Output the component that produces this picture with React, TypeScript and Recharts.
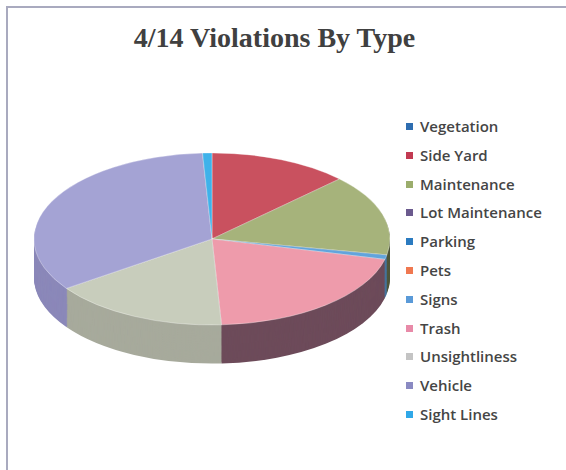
import React from "react";
import { Cell, Pie, PieChart } from "recharts";

const categories = [
  "Vegetation", "Side Yard", "Maintenance", "Lot Maintenance", "Parking",
  "Pets", "Signs", "Trash", "Unsightliness", "Vehicle", "Sight Lines",
];
const counts = [0, 15, 18, 0, 0, 0, 1, 24, 19, 40, 1];

const legendColors = [
  "#2e6db0", "#c23a52", "#9bad6c", "#6b5a8e", "#2b7bc0", "#f07850",
  "#5a9ad8", "#e88aa8", "#c4c4c4", "#8a8ac2", "#30a8e8",
];
const topColors = [
  "#3a78bd", "#c9515f", "#a6b37b", "#7e6aa2", "#3a86c8", "#f49a78",
  "#62a4dc", "#ee9bab", "#c8cdbc", "#a4a3d4", "#3fb2ea",
];
const sideColors = [
  "#24507e", "#7a3040", "#4f573c", "#4d3f6a", "#245a88", "#a0583e",
  "#46749c", "#6d4b5a", "#a7aa9c", "#8b88b9", "#2a7ea8",
];

const data = categories.map((name, i) => ({ name, value: counts[i] }));

const R = 178;
const SCALE_Y = 86 / 178;
const DEPTH = 80; // unscaled px
const STEP = 2;
const layers = Array.from({ length: DEPTH / STEP }, (_, i) => DEPTH - i * STEP);

function Pie3D() {
  return (
    <div style={{
      position: "absolute", left: 212 - 180, top: 239 - 180 * SCALE_Y,
      transform: `scaleY(${SCALE_Y})`, transformOrigin: "0 0",
    }}>
      <PieChart width={360} height={360 + DEPTH + 4} margin={{ top: 0, right: 0, bottom: 0, left: 0 }}>
        {layers.map((off) => (
          <Pie
            key={off} data={data} dataKey="value" nameKey="name"
            cx={180} cy={180 + off} outerRadius={R}
            startAngle={90} endAngle={-270} stroke="none"
            isAnimationActive={false}
          >
            {data.map((d, i) => <Cell key={d.name} fill={sideColors[i]} />)}
          </Pie>
        ))}
        <Pie
          data={data} dataKey="value" nameKey="name"
          cx={180} cy={180} outerRadius={R}
          startAngle={90} endAngle={-270}
          stroke="#ffffff" strokeOpacity={0.45} strokeWidth={1}
          isAnimationActive={false}
        >
          {data.map((d, i) => <Cell key={d.name} fill={topColors[i]} />)}
        </Pie>
      </PieChart>
    </div>
  );
}

export default function App() {
  return (
    <div style={{
      position: "absolute", left: 0, top: 0, width: 566, height: 470,
      background: "#fff", overflow: "hidden",
    }}>
      <div style={{
        position: "absolute", left: 6, top: 6, width: 558, height: 462,
        borderTop: "2px solid #a9aabf", borderLeft: "2px solid #a9aabf",
      }} />
      <div style={{
        position: "absolute", left: 0, top: 24, width: 549, textAlign: "center",
        fontFamily: "'Liberation Serif', 'Times New Roman', serif",
        fontWeight: 700, fontSize: 28, lineHeight: "28px", color: "#404040",
      }}>
        4/14 Violations By Type
      </div>
      <Pie3D />
      {categories.map((name, i) => (
        <div key={name} style={{ position: "absolute", left: 406, top: 119 + i * 28.8, height: 16 }}>
          <div style={{
            position: "absolute", left: 0, top: 4, width: 7, height: 7,
            background: legendColors[i],
          }} />
          <div style={{
            position: "absolute", left: 14, top: 0, whiteSpace: "nowrap",
            fontFamily: "'Open Sans', sans-serif", fontWeight: 600, fontSize: 15,
            lineHeight: "15px", color: "#454545",
          }}>
            {name}
          </div>
        </div>
      ))}
    </div>
  );
}
